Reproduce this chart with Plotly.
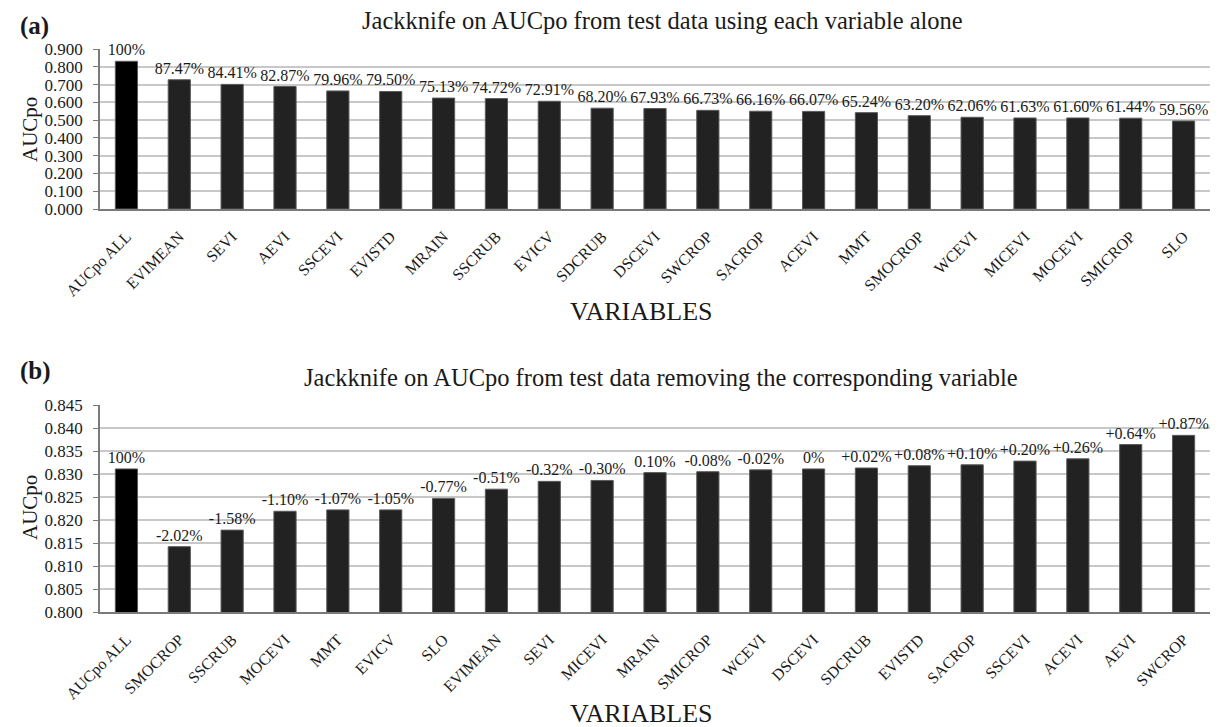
import plotly.graph_objects as go

# Panel (a): AUCpo using each variable alone
cats_a = ["AUCpo ALL", "EVIMEAN", "SEVI", "AEVI", "SSCEVI", "EVISTD", "MRAIN", "SSCRUB",
          "EVICV", "SDCRUB", "DSCEVI", "SWCROP", "SACROP", "ACEVI", "MMT", "SMOCROP",
          "WCEVI", "MICEVI", "MOCEVI", "SMICROP", "SLO"]
vals_a = [0.831, 0.727, 0.701, 0.689, 0.664, 0.661, 0.624, 0.621, 0.606, 0.567, 0.565,
          0.555, 0.550, 0.549, 0.542, 0.525, 0.516, 0.512, 0.512, 0.511, 0.495]
labels_a = ["100%", "87.47%", "84.41%", "82.87%", "79.96%", "79.50%", "75.13%", "74.72%",
            "72.91%", "68.20%", "67.93%", "66.73%", "66.16%", "66.07%", "65.24%", "63.20%",
            "62.06%", "61.63%", "61.60%", "61.44%", "59.56%"]

# Panel (b): AUCpo removing the corresponding variable
cats_b = ["AUCpo ALL", "SMOCROP", "SSCRUB", "MOCEVI", "MMT", "EVICV", "SLO", "EVIMEAN",
          "SEVI", "MICEVI", "MRAIN", "SMICROP", "WCEVI", "DSCEVI", "SDCRUB", "EVISTD",
          "SACROP", "SSCEVI", "ACEVI", "AEVI", "SWCROP"]
vals_b = [0.8311, 0.8142, 0.8178, 0.8219, 0.8222, 0.8222, 0.8247, 0.8267, 0.8284, 0.8286,
          0.8303, 0.8305, 0.8309, 0.8311, 0.8313, 0.8318, 0.8320, 0.8328, 0.8333, 0.8364, 0.8384]
labels_b = ["100%", "-2.02%", "-1.58%", "-1.10%", "-1.07%", "-1.05%", "-0.77%", "-0.51%",
            "-0.32%", "-0.30%", "0.10%", "-0.08%", "-0.02%", "0%", "+0.02%", "+0.08%",
            "+0.10%", "+0.20%", "+0.26%", "+0.64%", "+0.87%"]

FONT = "Liberation Serif, Times New Roman, serif"
TXT = "#1a1a1a"

def colors(n):
    return ["#000000"] + ["#222222"] * (n - 1)

fig = go.Figure()
fig.add_trace(go.Bar(x=cats_a, y=vals_a, text=labels_a, textposition="outside",
                     cliponaxis=False, width=0.42, constraintext="none",
                     marker=dict(color=colors(len(cats_a)), line=dict(color="#5a5a5a", width=1)),
                     outsidetextfont=dict(family=FONT, size=16, color=TXT),
                     xaxis="x", yaxis="y", showlegend=False))
fig.add_trace(go.Bar(x=cats_b, y=vals_b, text=labels_b, textposition="outside",
                     cliponaxis=False, width=0.42, constraintext="none",
                     marker=dict(color=colors(len(cats_b)), line=dict(color="#5a5a5a", width=1)),
                     outsidetextfont=dict(family=FONT, size=16, color=TXT),
                     xaxis="x2", yaxis="y2", showlegend=False))

# page body adds an 8px offset; build a figure that fills the rest of the window
OFF = 8
W, H = 1219 - OFF, 727 - OFF

def px(x):
    return (x - OFF) / W

def py(y):
    return 1 - (y - OFF) / H

xd = [px(100), px(1210)]
ya = [py(209), py(49)]
yb = [py(612), py(405)]

xcommon = dict(tickangle=-45, showgrid=False, automargin=False,
               showline=True, linecolor="#7a7a7a", linewidth=2, ticks="",
               ticklabelstandoff=10,
               tickfont=dict(family=FONT, size=16, color=TXT))
ycommon = dict(tickformat=".3f", automargin=False,
               showgrid=True, gridcolor="#c8c8c8", gridwidth=1.5,
               showline=True, linecolor="#7a7a7a", linewidth=1.5,
               ticks="outside", ticklen=5, tickcolor="#7a7a7a", zeroline=False,
               ticklabelstandoff=7,
               tickfont=dict(family=FONT, size=17, color=TXT))

fig.update_layout(
    width=W, height=H,
    margin=dict(l=0, r=0, t=0, b=0, autoexpand=False),
    paper_bgcolor="white", plot_bgcolor="white",
    font=dict(family=FONT, color=TXT),
    xaxis=dict(domain=xd, anchor="y", **xcommon),
    yaxis=dict(domain=ya, anchor="x", range=[0, 0.9], dtick=0.1, **ycommon),
    xaxis2=dict(domain=xd, anchor="y2", **xcommon),
    yaxis2=dict(domain=yb, anchor="x2", range=[0.8, 0.845], dtick=0.005, **ycommon),
)

ann = [
    dict(text="<b>(a)</b>", x=px(18), y=py(26), font=dict(size=25)),
    dict(text="Jackknife on AUCpo from test data using each variable alone",
         x=px(662), y=py(21), font=dict(size=24.5)),
    dict(text="AUCpo", x=px(30), y=py(130), textangle=-90, font=dict(size=21)),
    dict(text="VARIABLES", x=px(641), y=py(312), font=dict(size=26)),
    dict(text="<b>(b)</b>", x=px(18), y=py(371), font=dict(size=25)),
    dict(text="Jackknife on AUCpo from test data removing the corresponding variable",
         x=px(661), y=py(377), font=dict(size=24.5)),
    dict(text="AUCpo", x=px(30), y=py(508), textangle=-90, font=dict(size=21)),
    dict(text="VARIABLES", x=px(641), y=py(713), font=dict(size=26)),
]
for a in ann:
    a.update(xref="paper", yref="paper", showarrow=False,
             xanchor="left" if a["text"].startswith("<b>") else "center",
             yanchor="middle")
    a["font"].update(family=FONT, color=TXT)
fig.update_layout(annotations=ann)

fig.write_html("out.html")
